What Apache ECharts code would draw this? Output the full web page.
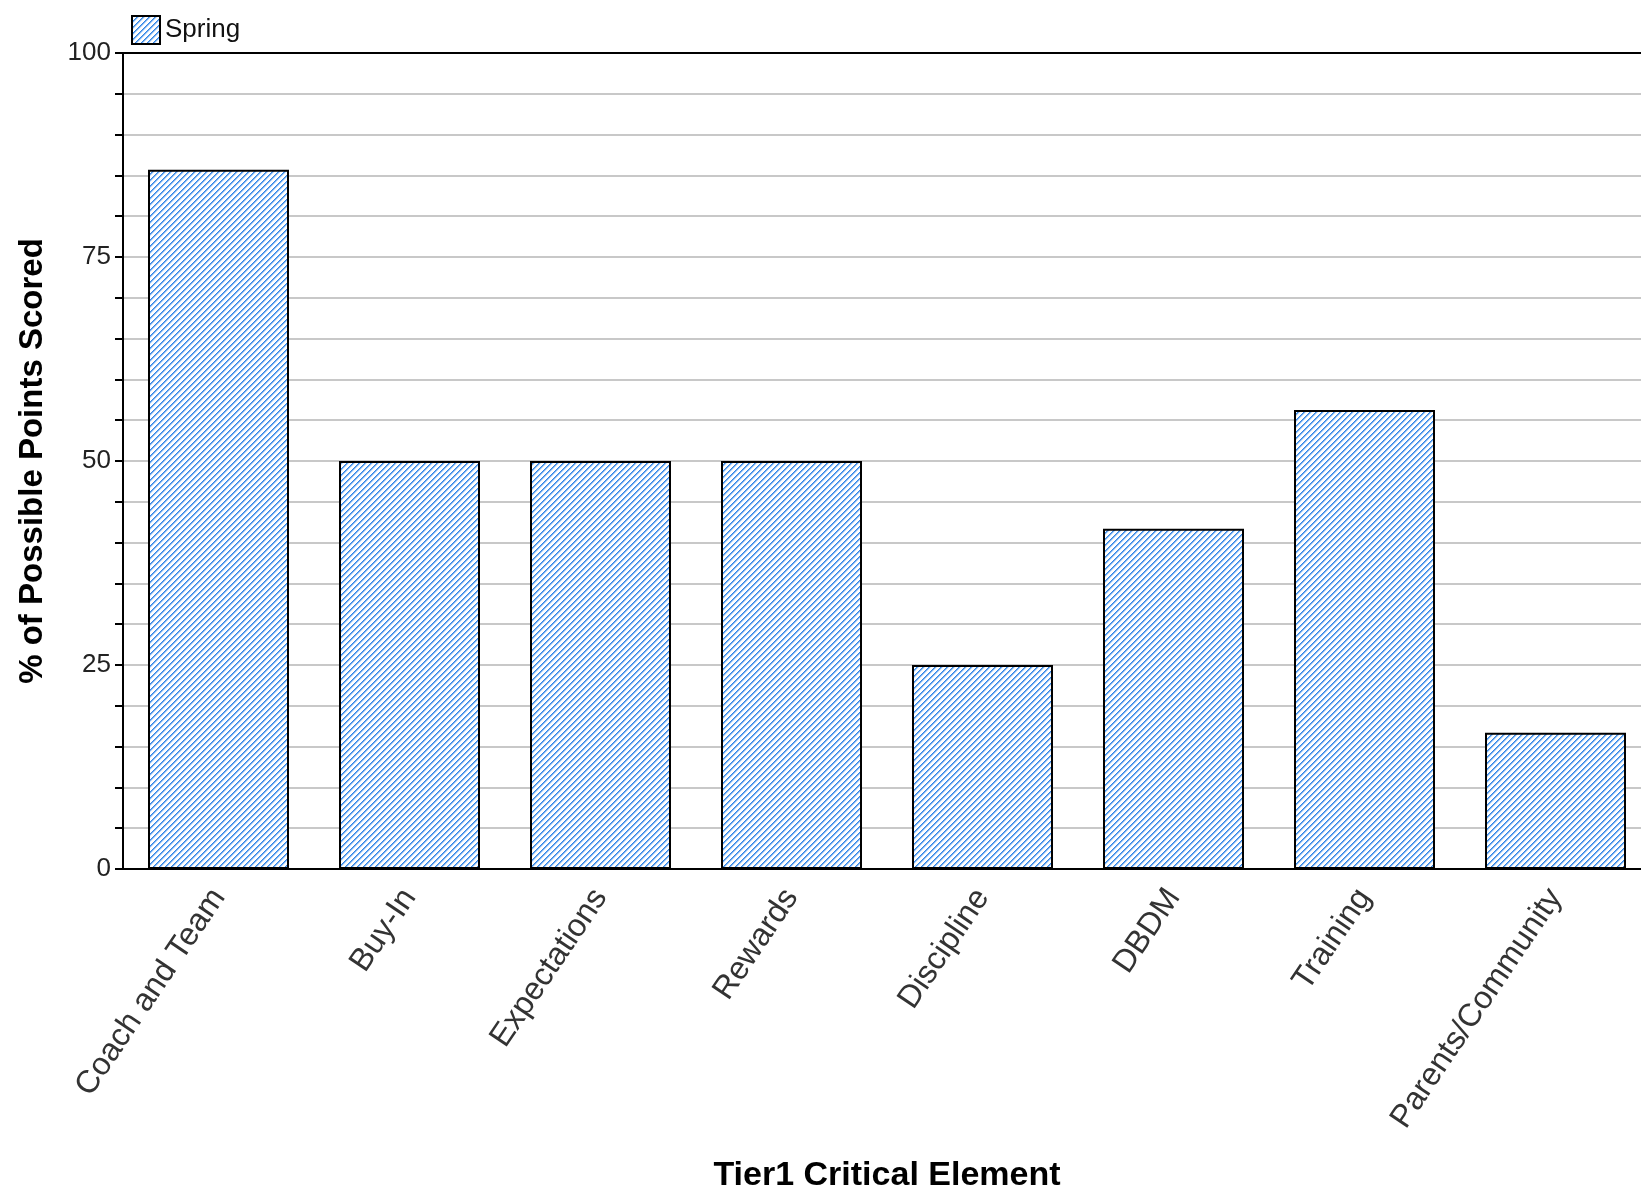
<!DOCTYPE html>
<html>
<head>
<meta charset="utf-8">
<script src="https://cdn.jsdelivr.net/npm/echarts@6/dist/echarts.min.js"></script>
<style>
  html, body { margin: 0; padding: 0; background: #ffffff; }
  #chart { width: 1641px; height: 1191px; }
</style>
</head>
<body>
<div id="chart"></div>
<script>
const categories = ['Coach and Team', 'Buy-In', 'Expectations', 'Rewards', 'Discipline', 'DBDM', 'Training', 'Parents/Community'];
const springValues = [85.7, 50, 50, 50, 25, 41.7, 56.25, 16.7];
const seriesName = 'Spring';
const yTickLabels = ['0', '25', '50', '75', '100'];
const xAxisTitle = 'Tier1 Critical Element';
const yAxisTitle = '% of Possible Points Scored';

function makePattern() {
  const n = 6;
  const c = document.createElement('canvas');
  c.width = n; c.height = n;
  const ctx = c.getContext('2d');
  ctx.fillStyle = '#ffffff';
  ctx.fillRect(0, 0, n, n);
  for (let i = 0; i < n; i++) {
    ctx.fillStyle = '#3386e6';
    ctx.fillRect(i, n - 1 - i, 1, 1);
    ctx.fillStyle = '#72adf0';
    ctx.fillRect((i + 1) % n, n - 1 - i, 1, 1);
    ctx.fillStyle = '#cfe3fa';
    ctx.fillRect((i + 2) % n, n - 1 - i, 1, 1);
  }
  return c;
}
const pattern = { image: makePattern(), repeat: 'repeat' };

const chart = echarts.init(document.getElementById('chart'), null, { renderer: 'canvas' });
const font = '"Liberation Sans", Arial, sans-serif';

chart.setOption({
  animation: false,
  backgroundColor: '#ffffff',
  textStyle: { fontFamily: font },
  legend: {
    left: 126, top: 10,
    itemWidth: 28, itemHeight: 28, itemGap: 10,
    icon: 'rect',
    textStyle: { fontSize: 26, color: '#111', fontFamily: font },
    data: [seriesName]
  },
  grid: {
    left: 123, top: 53, bottom: 322, right: -10,
    containLabel: false, outerBoundsMode: 'none'
  },
  xAxis: [{
    type: 'category',
    data: categories,
    position: 'bottom',
    axisLine: { lineStyle: { color: '#000', width: 2 } },
    axisTick: { alignWithLabel: true, length: 12, lineStyle: { color: '#000', width: 2 } },
    axisLabel: { rotate: 56, fontSize: 32, color: '#333', margin: 23, fontFamily: font, interval: 0 },
    name: xAxisTitle,
    nameLocation: 'middle',
    nameGap: 290,
    nameTextStyle: { fontSize: 34, fontWeight: 'bold', color: '#000', fontFamily: font }
  }, {
    type: 'category',
    data: categories,
    position: 'top',
    axisLine: { lineStyle: { color: '#000', width: 2 } },
    axisTick: { show: false },
    axisLabel: { show: false }
  }],
  yAxis: {
    type: 'value',
    min: 0, max: 100, interval: 5,
    axisLine: { show: true, lineStyle: { color: '#000', width: 2 } },
    axisTick: { show: true, length: 8, lineStyle: { color: '#000', width: 2 } },
    axisLabel: {
      fontSize: 26, color: '#222', margin: 12, fontFamily: font,
      formatter: function (v) {
        const s = String(v);
        return yTickLabels.indexOf(s) >= 0 ? s : '';
      }
    },
    splitLine: { show: true, lineStyle: { color: '#c8c8c8', width: 2 } },
    name: yAxisTitle,
    nameLocation: 'middle',
    nameGap: 74,
    nameRotate: 90,
    nameTextStyle: { fontSize: 33, fontWeight: 'bold', color: '#000', fontFamily: font }
  },
  series: [{
    name: seriesName,
    type: 'bar',
    data: springValues,
    barWidth: 141,
    itemStyle: { color: pattern, borderColor: '#000', borderWidth: 2 }
  }]
});
</script>
</body>
</html>
